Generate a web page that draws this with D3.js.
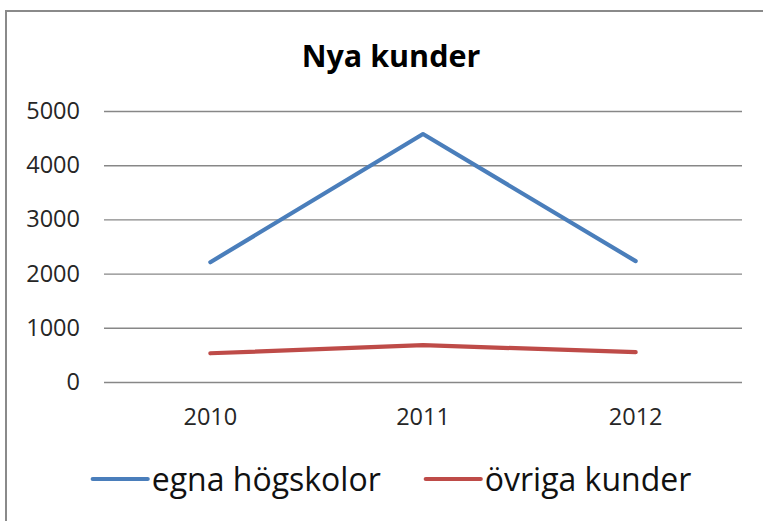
<!DOCTYPE html>
<html>
<head>
<meta charset="utf-8">
<script src="https://cdn.jsdelivr.net/npm/d3@7"></script>
<style>
  html, body { margin: 0; background: #fff; overflow: hidden; }
  svg { display: block; font-family: "Open Sans", "Noto Sans", sans-serif; }
</style>
</head>
<body>
<div id="chart"></div>
<script>
// data
var years = ["2010", "2011", "2012"];
var egnaHogskolor = [2210, 4575, 2230];
var ovrigaKunder = [530, 680, 550];
var yTicks = [0, 1000, 2000, 3000, 4000, 5000];
var seriesNames = ["egna högskolor", "övriga kunder"];
var seriesColors = ["#4a7ebb", "#be4b48"];

var W = 763, H = 521;
var margin = { top: 111, right: 21, bottom: 139, left: 104 },
    width = W - margin.left - margin.right,
    height = H - margin.top - margin.bottom;

var svg = d3.select("#chart").append("svg")
    .attr("width", W)
    .attr("height", H);

// outer chart border: only left + top edges are inside the picture
svg.append("path")
    .attr("d", "M6," + (H + 5) + "V11H" + (W + 5))
    .attr("fill", "none")
    .attr("stroke", "#8a8a8a")
    .attr("stroke-width", 2);

svg.append("text")
    .attr("x", 391).attr("y", 67)
    .attr("text-anchor", "middle")
    .style("font-size", "30.5px")
    .style("font-weight", "bold")
    .attr("fill", "#000")
    .text("Nya kunder");

var g = svg.append("g")
    .attr("transform", "translate(" + margin.left + "," + margin.top + ")");

var x = d3.scaleBand().domain(years).range([0, width]);
var y = d3.scaleLinear().domain([0, 5000]).range([height, 0]);

//----------grid----------
var yAxis = d3.axisLeft(y)
    .tickValues(yTicks)
    .tickFormat(d3.format("d"))
    .tickSize(-width)
    .tickPadding(24);
var gy = g.append("g").attr("class", "y axis").call(yAxis);
gy.select(".domain").remove();
gy.selectAll(".tick line")
    .attr("stroke", "#878787")
    .attr("stroke-width", 1.4);
gy.selectAll(".tick text")
    .style("font-size", "23.5px")
    .style("font-family", "'Open Sans', sans-serif")
    .attr("fill", "#262626");

var xAxis = d3.axisBottom(x).tickSize(0).tickPadding(26);
var gx = g.append("g").attr("class", "x axis")
    .attr("transform", "translate(0," + height + ")")
    .call(xAxis);
gx.select(".domain").remove();
gx.selectAll(".tick text")
    .style("font-size", "23.5px")
    .style("font-family", "'Open Sans', sans-serif")
    .attr("fill", "#262626");

//----------lines----------
var line = d3.line()
    .x(function (d, i) { return x(years[i]) + x.bandwidth() / 2; })
    .y(function (d) { return y(d); });

[egnaHogskolor, ovrigaKunder].forEach(function (s, i) {
    g.append("path")
        .datum(s)
        .attr("d", line)
        .attr("fill", "none")
        .attr("stroke", seriesColors[i])
        .attr("stroke-width", 4.2)
        .attr("stroke-linecap", "round")
        .attr("stroke-linejoin", "round");
});

//----------legend----------
var legend = svg.append("g").attr("class", "legend");
var items = legend.selectAll("g.item").data(seriesNames).enter()
    .append("g").attr("class", "item");
items.append("line")
    .attr("x1", 0).attr("x2", 55)
    .attr("y1", 0).attr("y2", 0)
    .attr("stroke", function (d, i) { return seriesColors[i]; })
    .attr("stroke-width", 4.2)
    .attr("stroke-linecap", "round");
items.append("text")
    .attr("x", 59).attr("y", 12)
    .style("font-size", "32px")
    .attr("fill", "#111")
    .text(function (d) { return d; });

var offs = [], pos = 0;
items.each(function () {
    offs.push(pos);
    pos += 59 + d3.select(this).select("text").node().getComputedTextLength() + 45;
});
var total = pos - 45;
var start = 392 - total / 2;
items.attr("transform", function (d, i) {
    return "translate(" + (start + offs[i]) + ",479)";
});
</script>
</body>
</html>
